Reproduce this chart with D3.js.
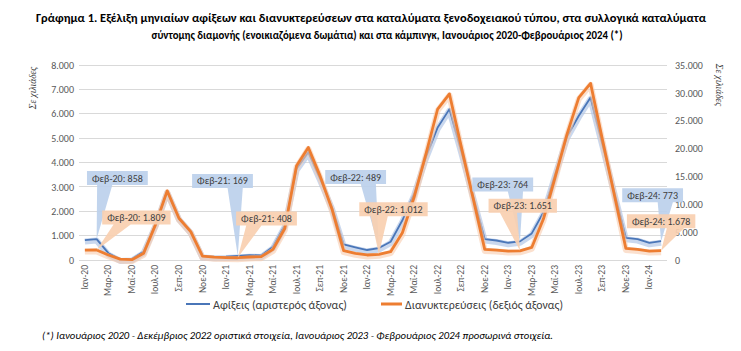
<!DOCTYPE html>
<html><head><meta charset="utf-8">
<script src="https://cdn.jsdelivr.net/npm/d3@7"></script>
<style>body{margin:0;background:#fff} svg{display:block}</style>
</head><body>
<script>
const months = ["Ιαν-20","Φεβ-20","Μαρ-20","Απρ-20","Μαϊ-20","Ιουν-20","Ιουλ-20","Αυγ-20","Σεπ-20","Οκτ-20","Νοε-20","Δεκ-20",
  "Ιαν-21","Φεβ-21","Μαρ-21","Απρ-21","Μαϊ-21","Ιουν-21","Ιουλ-21","Αυγ-21","Σεπ-21","Οκτ-21","Νοε-21","Δεκ-21",
  "Ιαν-22","Φεβ-22","Μαρ-22","Απρ-22","Μαϊ-22","Ιουν-22","Ιουλ-22","Αυγ-22","Σεπ-22","Οκτ-22","Νοε-22","Δεκ-22",
  "Ιαν-23","Φεβ-23","Μαρ-23","Απρ-23","Μαϊ-23","Ιουν-23","Ιουλ-23","Αυγ-23","Σεπ-23","Οκτ-23","Νοε-23","Δεκ-23",
  "Ιαν-24","Φεβ-24"];
// Αφίξεις (χιλιάδες) - αριστερός άξονας
const arrivals = [816, 858, 280, 25, 40, 350, 1450, 2820, 1720, 1170, 160, 130,
  140, 169, 200, 185, 545, 1430, 3740, 4420, 3330, 2180, 640, 520,
  410, 489, 750, 1630, 2720, 4220, 5440, 6190, 4460, 2650, 857, 800,
  707, 764, 1090, 1960, 3540, 5060, 5920, 6670, 4750, 2830, 910, 857,
  707, 773];
// Διανυκτερεύσεις (χιλιάδες) - δεξιός άξονας
const nights = [1785, 1809, 890, 150, 60, 1200, 6300, 12400, 7500, 5100, 700, 500,
  430, 408, 540, 600, 1900, 5650, 16900, 20200, 15100, 9200, 1670, 1190,
  900, 1012, 1490, 4880, 11300, 19000, 27100, 29800, 20400, 11200, 1900, 1785,
  1600, 1651, 2260, 7400, 14900, 22600, 29150, 31700, 21700, 11900, 2080, 1900,
  1600, 1678];
const leftTicks = [0,1000,2000,3000,4000,5000,6000,7000,8000];
const rightTicks = [0,5000,10000,15000,20000,25000,30000,35000];
const calloutMonths = ["Φεβ-20","Φεβ-21","Φεβ-22","Φεβ-23","Φεβ-24"];
// callout box centre offsets (px) from the labelled point
const arrCalloutDx = [20.75, -15.25, -23.25, -17.25, -8.5];
const arrCalloutDy = [-61, -75, -71, -57, -46];
const ngtCalloutDx = [39.75, 28.75, 14.6, 2.75, 0];
const ngtCalloutDy = [-32.5, -39.2, -45.2, -45, -29.5];

const W = 741, H = 351;
const FONT = "Carlito, Calibri, Lato, 'Noto Sans', sans-serif";
const loc = d3.formatLocale({decimal: ",", thousands: ".", grouping: [3], currency: ["", "€"]});
const fmt = loc.format(",");

const svg = d3.select("body").append("svg").attr("width", W).attr("height", H)
  .style("font-family", FONT);

const x = d3.scaleBand().domain(months).range([79, 667]);
const cx = m => x(m) + x.bandwidth() / 2;
const yL = d3.scaleLinear().domain([0, 8000]).range([260, 65]);
const yR = d3.scaleLinear().domain([0, 35000]).range([260, 65]);

// title
const title = svg.append("g").attr("font-weight", "bold").attr("font-size", 11.5).attr("fill", "#000");
title.append("text").attr("x", 371).attr("y", 22).attr("text-anchor", "middle")
  .attr("textLength", 670).attr("lengthAdjust", "spacingAndGlyphs")
  .text("Γράφημα 1. Εξέλιξη μηνιαίων αφίξεων και διανυκτερεύσεων στα καταλύματα ξενοδοχειακού τύπου, στα συλλογικά καταλύματα");
title.append("text").attr("x", 387).attr("y", 39).attr("text-anchor", "middle")
  .attr("textLength", 471).attr("lengthAdjust", "spacingAndGlyphs")
  .text("σύντομης διαμονής (ενοικιαζόμενα δωμάτια) και στα κάμπινγκ, Ιανουάριος 2020-Φεβρουάριος 2024 (*)");

// gridlines
svg.append("g").selectAll("line").data(leftTicks).join("line")
  .attr("x1", 79).attr("x2", 667).attr("y1", d => yL(d)).attr("y2", d => yL(d))
  .attr("stroke", "#D9D9D9").attr("stroke-width", 1).attr("shape-rendering", "crispEdges");

// left axis
const gl = svg.append("g").attr("transform", "translate(79,0)")
  .call(d3.axisLeft(yL).tickValues(leftTicks).tickSize(0).tickPadding(5).tickFormat(fmt));
gl.select(".domain").remove();
gl.selectAll("text").attr("font-size", 10).attr("fill", "#595959").style("font-family", FONT);

// right axis
const gr = svg.append("g").attr("transform", "translate(667,0)")
  .call(d3.axisRight(yR).tickValues(rightTicks).tickSize(0).tickPadding(8).tickFormat(fmt));
gr.select(".domain").remove();
gr.selectAll("text").attr("font-size", 10).attr("fill", "#595959").style("font-family", FONT);

// x axis
const gx = svg.append("g").attr("transform", "translate(0,260)")
  .call(d3.axisBottom(x).tickSize(0).tickFormat((d, i) => i % 2 === 0 ? d : ""));
gx.select(".domain").remove();
gx.selectAll("text").attr("font-size", 9.5).attr("fill", "#595959").style("font-family", FONT)
  .attr("text-anchor", "end").attr("transform", "rotate(-90)")
  .attr("x", -5).attr("y", 0).attr("dy", "0.32em").attr("dx", 0);

// axis titles
svg.append("text").attr("transform", "translate(36,88) rotate(-90)").attr("text-anchor", "middle")
  .attr("font-size", 9.5).attr("font-style", "italic").attr("fill", "#404040")
  .style("font-family", "'Liberation Serif', 'DejaVu Serif', serif").text("Σε χιλιάδες");
svg.append("text").attr("transform", "translate(716,85) rotate(90)").attr("text-anchor", "middle")
  .attr("font-size", 9.5).attr("font-style", "italic").attr("fill", "#404040")
  .style("font-family", "'Liberation Serif', 'DejaVu Serif', serif").text("Σε χιλιάδες");

// lines
const lineL = d3.line().x((d, i) => cx(months[i])).y(d => yL(d));
const lineR = d3.line().x((d, i) => cx(months[i])).y(d => yR(d));
svg.append("path").datum(arrivals).attr("d", lineL).attr("fill", "none")
  .attr("stroke", "#B4C7E7").attr("stroke-opacity", 0.7).attr("stroke-width", 6).attr("stroke-linejoin", "round")
  .attr("transform", "translate(0,1.5)");
svg.append("path").datum(arrivals).attr("d", lineL).attr("fill", "none")
  .attr("stroke", "#4A76B8").attr("stroke-width", 1.8).attr("stroke-linejoin", "round");
svg.append("path").datum(nights).attr("d", lineR).attr("fill", "none")
  .attr("stroke", "#F8CBAD").attr("stroke-opacity", 0.6).attr("stroke-width", 6).attr("stroke-linejoin", "round")
  .attr("transform", "translate(0,1.5)");
svg.append("path").datum(nights).attr("d", lineR).attr("fill", "none")
  .attr("stroke", "#ED7D31").attr("stroke-width", 2.8).attr("stroke-linejoin", "round");

// callouts
function callout(m, val, yScale, dx, dy, fill) {
  const px = cx(m), py = yScale(val);
  const g = svg.append("g");
  const t = g.append("text").attr("font-size", 10).attr("fill", "#404040")
    .attr("text-anchor", "middle").attr("dy", "0.35em")
    .attr("x", px + dx).attr("y", py + dy).text(m + ": " + fmt(val));
  const tw = t.node().getComputedTextLength();
  const bw = tw + 10, bh = 14;
  const left = px + dx - bw / 2, top = py + dy - bh / 2, bottom = top + bh;
  const centre = px + dx;
  const b1 = px >= centre ? left + bw * 7 / 12 : left + bw * 2 / 12;
  const b2 = px >= centre ? left + bw * 10 / 12 : left + bw * 5 / 12;
  g.insert("path", "text")
    .attr("d", `M${left},${top}H${left + bw}V${bottom}H${b2}L${px},${py}L${b1},${bottom}H${left}Z`)
    .attr("fill", fill).attr("fill-opacity", 0.92);
}
calloutMonths.forEach((m, k) => {
  const i = months.indexOf(m);
  callout(m, arrivals[i], yL, arrCalloutDx[k], arrCalloutDy[k], "#BCD0EC");
});
calloutMonths.forEach((m, k) => {
  const i = months.indexOf(m);
  callout(m, nights[i], yR, ngtCalloutDx[k], ngtCalloutDy[k], "#F9CFB0");
});

// legend
const lg = svg.append("g").attr("font-size", 12).attr("fill", "#404040");
lg.append("line").attr("x1", 186).attr("x2", 210).attr("y1", 304).attr("y2", 304)
  .attr("stroke", "#4A76B8").attr("stroke-width", 2);
lg.append("text").attr("x", 213).attr("y", 308.5).attr("textLength", 134).attr("lengthAdjust", "spacingAndGlyphs")
  .text("Αφίξεις (αριστερός άξονας)");
lg.append("line").attr("x1", 381).attr("x2", 402).attr("y1", 304).attr("y2", 304)
  .attr("stroke", "#ED7D31").attr("stroke-width", 3);
lg.append("text").attr("x", 405).attr("y", 308.5).attr("textLength", 158).attr("lengthAdjust", "spacingAndGlyphs")
  .text("Διανυκτερεύσεις (δεξιός άξονας)");

// footnote
svg.append("text").attr("x", 42).attr("y", 339).attr("font-size", 10).attr("font-style", "italic")
  .attr("fill", "#000").attr("textLength", 511).attr("lengthAdjust", "spacingAndGlyphs")
  .text("(*) Ιανουάριος 2020 - Δεκέμβριος 2022 οριστικά στοιχεία, Ιανουάριος 2023 - Φεβρουάριος 2024 προσωρινά στοιχεία.");
</script>
</body></html>
